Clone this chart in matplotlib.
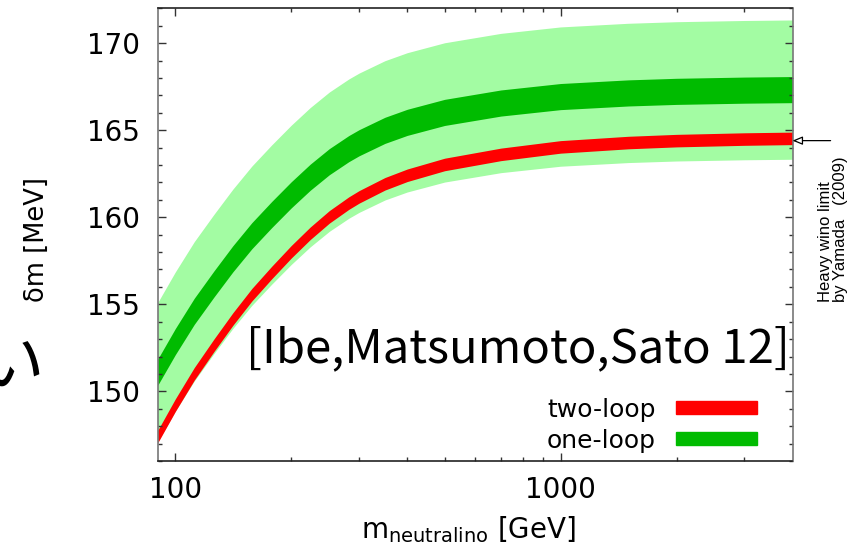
import numpy as np
import matplotlib
matplotlib.use("Agg")
import matplotlib.pyplot as plt
from matplotlib.ticker import FixedLocator, NullFormatter, MultipleLocator

# neutralino mass [GeV]
m_vals = [90, 100, 112, 126, 141, 158, 178, 200, 224, 251, 282, 300, 350, 400, 500, 700, 1000,
          1500, 2000, 3000, 4000]
# one-loop result: centre of dark-green band, light-green band is centre +- outer_hw
one_loop_mid = [151.1, 152.86, 154.6, 156.17, 157.61, 158.94, 160.16, 161.29, 162.3, 163.19,
                163.94, 164.28, 164.99, 165.45, 166.02, 166.56, 166.93, 167.14, 167.23, 167.3,
                167.33]
one_loop_hw = 0.75
outer_hw = 4.0
# two-loop result (red band)
two_loop_mid = [147.4, 149.21, 151.01, 152.65, 154.15, 155.55, 156.83, 158.02, 159.08, 160.02,
                160.81, 161.17, 161.92, 162.41, 163.03, 163.61, 164.04, 164.29, 164.4, 164.49,
                164.53]
two_loop_hw = 0.36

yamada_limit = 164.4

light_green = "#a3fca3"
dark_green = "#00bb00"
red = "#ff0000"

W, H = 863, 554
fig = plt.figure(figsize=(W / 100, H / 100), dpi=100)
ax = fig.add_axes([157.7 / W, 1 - 461 / H, (792.5 - 157.7) / W, (461 - 8.3) / H])

m = np.array(m_vals)
c1 = np.array(one_loop_mid)
c2 = np.array(two_loop_mid)

ax.fill_between(m, c1 - outer_hw, c1 + outer_hw, color=light_green, lw=0)
ax.fill_between(m, c1 - one_loop_hw, c1 + one_loop_hw, color=dark_green, lw=0)
ax.fill_between(m, c2 - two_loop_hw, c2 + two_loop_hw, color=red, lw=0)

ax.set_xscale("log")
ax.set_xlim(90, 4000)
ax.set_ylim(146, 172)

ax.xaxis.set_major_locator(FixedLocator([100, 1000]))
ax.xaxis.set_minor_locator(FixedLocator([200, 300, 400, 500, 600, 700, 800, 900, 2000, 3000]))
ax.xaxis.set_minor_formatter(NullFormatter())
ax.set_xticklabels(["100", "1000"])
ax.yaxis.set_major_locator(MultipleLocator(5))
ax.yaxis.set_minor_locator(MultipleLocator(1))

ax.tick_params(which="both", direction="in", top=True, right=True, colors="#333333",
               labelcolor="black", width=1.0)
ax.tick_params(which="major", length=6)
ax.tick_params(which="minor", length=3.2)
ax.tick_params(axis="y", which="major", labelsize=20, pad=13)
ax.tick_params(axis="x", which="major", labelsize=20, pad=11)

for side in ["left", "right"]:
    ax.spines[side].set_color("#777777")
for side in ["top", "bottom"]:
    ax.spines[side].set_color("#222222")
for s in ax.spines.values():
    s.set_linewidth(1.2)

ax.set_ylabel("δm [MeV]", fontsize=18.5)
ax.yaxis.set_label_coords(-0.17, 0.49)
ax.set_xlabel(r"$\mathregular{m_{neutralino}}$ [GeV]", fontsize=20)
ax.xaxis.set_label_coords(0.49, -0.118)

# legend drawn by hand as in the slide
ax.text(0.785, 0.113, "two-loop", transform=ax.transAxes, ha="right", va="center", fontsize=18)
ax.text(0.785, 0.045, "one-loop", transform=ax.transAxes, ha="right", va="center", fontsize=18)
fig.patches.append(plt.Rectangle((676 / W, 1 - 414 / H), 81 / W, 13.5 / H,
                                 transform=fig.transFigure, color=red))
fig.patches.append(plt.Rectangle((676 / W, 1 - 445 / H), 81 / W, 13 / H,
                                 transform=fig.transFigure, color=dark_green))

fig.text(790 / W, 1 - 362 / H, "[Ibe,Matsumoto,Sato 12]", ha="right", va="baseline",
         fontsize=34, family=["Noto Sans CJK JP", "DejaVu Sans"])

# heavy wino limit arrow
ax.annotate("", xy=(4000, yamada_limit), xytext=(1.06, yamada_limit),
            textcoords=("axes fraction", "data"), xycoords="data",
            arrowprops=dict(arrowstyle="-|>,head_length=0.6,head_width=0.25", fc="white",
                            ec="black", lw=0.9, shrinkA=0, shrinkB=0),
            annotation_clip=False)
fig.text(833 / W, 1 - 302 / H, "Heavy wino limit\nby Yamada   (2009)", rotation=90,
         ha="center", va="bottom", multialignment="left", fontsize=12,
         family="Liberation Sans", linespacing=1.0)

# cut-off character from the slide
fig.text(-22 / W, 1 - 368 / H, "い", ha="left", va="center", fontsize=48,
         family=["Noto Sans CJK JP"])

fig.savefig("out.png", dpi=100)
